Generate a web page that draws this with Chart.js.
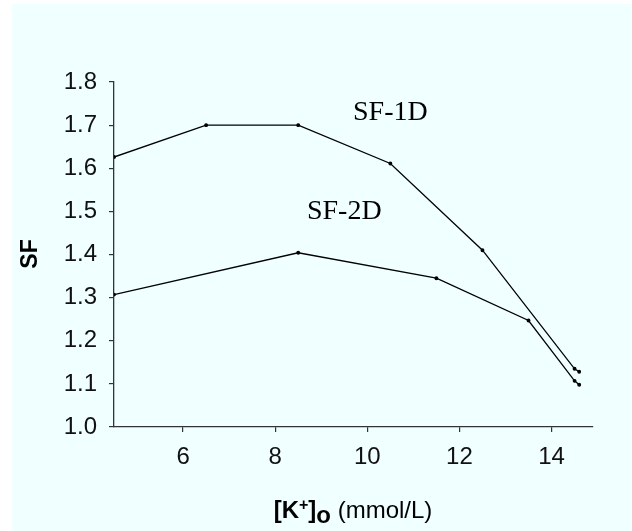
<!DOCTYPE html>
<html>
<head>
<meta charset="utf-8">
<script src="https://cdn.jsdelivr.net/npm/chart.js@4.4.1/dist/chart.umd.min.js"></script>
<style>
html, body { margin: 0; padding: 0; background: #fff; }
#wrap { width: 632px; height: 531px; }
</style>
</head>
<body>
<div id="wrap"><canvas id="sfChart" width="632" height="531"></canvas></div>
<script>
// SF vs extracellular potassium
const sf1dK = [4.5, 6.5, 8.5, 10.5, 12.5, 14.5, 14.6];
const sf1dVal = [1.626, 1.70, 1.70, 1.611, 1.41, 1.135, 1.128];
const sf2dK = [4.5, 8.5, 11.5, 13.5, 14.5, 14.6];
const sf2dVal = [1.307, 1.404, 1.345, 1.247, 1.107, 1.098];
const seriesNames = ['SF-1D', 'SF-2D'];
const xTicks = [6, 8, 10, 12, 14];
const yTicks = [1.0, 1.1, 1.2, 1.3, 1.4, 1.5, 1.6, 1.7, 1.8];

const toPoints = (xs, ys) => xs.map((x, i) => ({ x: x, y: ys[i] }));

const decorPlugin = {
    id: 'decor',
    beforeDraw(chart) {
        const ctx = chart.ctx;
        ctx.save();
        ctx.fillStyle = '#f0ffff';
        ctx.fillRect(12, 4, chart.width - 12, chart.height - 4);
        ctx.restore();
    },
    afterDraw(chart) {
        const ctx = chart.ctx;
        const xs = chart.scales.x, ys = chart.scales.y;
        ctx.save();
        ctx.fillStyle = '#000';

        // series labels
        ctx.font = '28px "Liberation Serif", "Times New Roman", serif';
        ctx.textAlign = 'center';
        ctx.textBaseline = 'middle';
        ctx.fillText(seriesNames[0], xs.getPixelForValue(10.5), ys.getPixelForValue(1.73));
        ctx.fillText(seriesNames[1], xs.getPixelForValue(9.5), ys.getPixelForValue(1.5));

        // y title
        ctx.save();
        ctx.translate(31, 254);
        ctx.rotate(-Math.PI / 2);
        ctx.font = 'bold 23px "Liberation Sans", Arial, sans-serif';
        ctx.textAlign = 'center';
        ctx.textBaseline = 'middle';
        ctx.fillText('SF', 0, 0);
        ctx.restore();

        // x title: [K+]o (mmol/L)
        const bold = 'bold 24px "Liberation Sans", Arial, sans-serif';
        const sup = 'bold 16px "Liberation Sans", Arial, sans-serif';
        const reg = '24px "Liberation Sans", Arial, sans-serif';
        const parts = [
            { t: '[K', f: bold, dy: 0 },
            { t: '+', f: sup, dy: -8 },
            { t: ']', f: bold, dy: 0 },
            { t: 'o', f: bold, dy: 5 },
            { t: ' (mmol/L)', f: reg, dy: 0 }
        ];
        let total = 0;
        parts.forEach(p => { ctx.font = p.f; p.w = ctx.measureText(p.t).width; total += p.w; });
        let x = 353 - total / 2;
        const base = 518;
        ctx.textAlign = 'left';
        ctx.textBaseline = 'alphabetic';
        parts.forEach(p => {
            ctx.font = p.f;
            ctx.fillText(p.t, x, base + p.dy);
            x += p.w;
        });
        ctx.restore();
    }
};

const ctx = document.getElementById('sfChart').getContext('2d');
new Chart(ctx, {
    type: 'scatter',
    data: {
        datasets: [{
            label: seriesNames[0],
            data: toPoints(sf1dK, sf1dVal),
            showLine: true,
            borderColor: '#000',
            backgroundColor: '#000',
            borderWidth: 1.3,
            pointRadius: 1.3,
            pointHoverRadius: 1.3,
            tension: 0
        }, {
            label: seriesNames[1],
            data: toPoints(sf2dK, sf2dVal),
            showLine: true,
            borderColor: '#000',
            backgroundColor: '#000',
            borderWidth: 1.3,
            pointRadius: 1.3,
            pointHoverRadius: 1.3,
            tension: 0
        }]
    },
    options: {
        responsive: false,
        animation: false,
        layout: { padding: { top: 82, right: 39, left: 0, bottom: 0 } },
        plugins: {
            legend: { display: false },
            tooltip: { enabled: false }
        },
        scales: {
            x: {
                type: 'linear',
                min: 4.5,
                max: 14.9,
                afterBuildTicks: s => { s.ticks = xTicks.map(v => ({ value: v })); },
                afterFit: s => { s.height = 104; },
                grid: { drawOnChartArea: false, tickLength: 5, color: '#333', lineWidth: 1.2 },
                border: { color: '#333', width: 1.3 },
                ticks: {
                    color: '#111',
                    padding: 11,
                    font: { family: '"Liberation Sans", Arial, sans-serif', size: 24 }
                }
            },
            y: {
                type: 'linear',
                min: 1.0,
                max: 1.8,
                afterBuildTicks: s => { s.ticks = yTicks.map(v => ({ value: v })); },
                afterFit: s => { s.width = 114; },
                grid: { drawOnChartArea: false, tickLength: 5, color: '#333', lineWidth: 1.2 },
                border: { color: '#333', width: 1.3 },
                ticks: {
                    color: '#111',
                    padding: 12,
                    callback: v => v.toFixed(1),
                    font: { family: '"Liberation Sans", Arial, sans-serif', size: 24 }
                }
            }
        }
    },
    plugins: [decorPlugin]
});
</script>
</body>
</html>
